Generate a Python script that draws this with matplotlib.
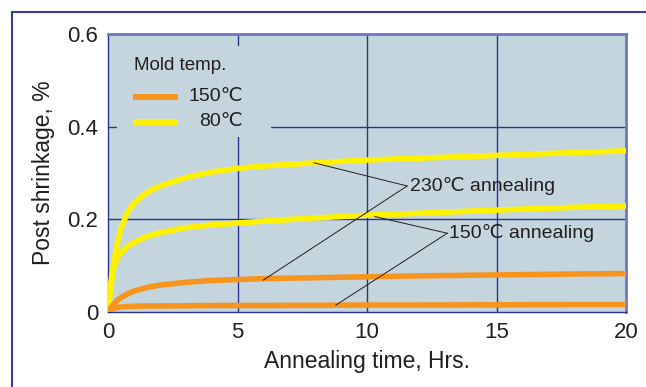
import numpy as np
import matplotlib
matplotlib.use("Agg")
import matplotlib.pyplot as plt
from matplotlib.patches import Rectangle

plt.rcParams["font.family"] = ["Liberation Sans", "DejaVu Sans"]

# annealing time, hrs
t = [0, 0.1, 0.2, 0.35, 0.5, 0.75, 1, 1.5, 2, 3, 4, 5, 6, 8, 10, 12, 15, 18, 20]
# mold temp 80C, 230C annealing
y80_230 = [0, 0.06, 0.10, 0.145, 0.18, 0.215, 0.235, 0.258, 0.272, 0.29, 0.302, 0.31,
           0.315, 0.322, 0.328, 0.332, 0.338, 0.344, 0.348]
# mold temp 80C, 150C annealing
y80_150 = [0, 0.05, 0.09, 0.115, 0.128, 0.142, 0.15, 0.163, 0.171, 0.182, 0.188, 0.192,
           0.196, 0.203, 0.209, 0.213, 0.220, 0.226, 0.229]
# mold temp 150C, 230C annealing
y150_230 = [0, 0.008, 0.016, 0.025, 0.031, 0.039, 0.045, 0.053, 0.058, 0.064, 0.068,
            0.070, 0.072, 0.074, 0.076, 0.078, 0.080, 0.082, 0.083]
# mold temp 150C, 150C annealing
y150_150 = [0, 0.004, 0.007, 0.010, 0.011, 0.012, 0.0125, 0.013, 0.013, 0.0135, 0.014,
            0.014, 0.014, 0.0145, 0.015, 0.015, 0.0155, 0.016, 0.016]

xticks = [0, 5, 10, 15, 20]
yticks = [0, 0.2, 0.4, 0.6]
ytick_labels = ["0", "0.2", "0.4", "0.6"]

orange = "#f7941d"
yellow = "#fff200"
grid_c = "#2b3591"
bg = "#c4d5dd"
txt = "#231f20"

fig = plt.figure(figsize=(6.46, 3.87), dpi=100)
fig.patches.append(Rectangle((12 / 646, -0.1), 1.2, 1 - 12 / 387 + 0.1,
                             transform=fig.transFigure, fill=False,
                             edgecolor="#3a3f9e", linewidth=1.5))
ax = fig.add_axes([108 / 646, 1 - 312 / 387, 518 / 646, 278 / 387])
ax.set_facecolor(bg)

for xv in xticks[1:-1]:
    ax.axvline(xv, color=grid_c, lw=1.0, zorder=1)
for yv in yticks[1:-1]:
    ax.axhline(yv, color=grid_c, lw=1.0, zorder=1)

# legend box hides the grid behind it
ax.add_patch(Rectangle((0.35, 0.378), 5.95, 0.196, facecolor=bg, edgecolor="none", zorder=2))
ax.text(1.0, 0.531, "Mold temp.", fontsize=13.5, color=txt, va="center", zorder=3)
ax.plot([0.96, 2.7], [0.465, 0.465], color=orange, lw=4.3, solid_capstyle="butt", zorder=3)
ax.plot([0.96, 2.7], [0.411, 0.411], color=yellow, lw=4.3, solid_capstyle="butt", zorder=3)
ax.text(5.2, 0.465, "150℃", fontsize=14, color=txt, va="center", ha="right", zorder=3)
ax.text(5.2, 0.411, "80℃", fontsize=14, color=txt, va="center", ha="right", zorder=3)

ax.plot(t, y80_230, color=yellow, lw=4, zorder=4)
ax.plot(t, y80_150, color=yellow, lw=4, zorder=4)
ax.plot(t, y150_230, color=orange, lw=4, zorder=4)
ax.plot(t, y150_150, color=orange, lw=4, zorder=4)

# leader lines
ax.plot([7.95, 11.55], [0.322, 0.272], color=txt, lw=0.7, zorder=5)
ax.plot([6.0, 11.55], [0.069, 0.272], color=txt, lw=0.7, zorder=5)
ax.text(11.65, 0.272, "230℃ annealing", fontsize=14, color=txt, va="center", zorder=5)
ax.plot([10.3, 13.1], [0.206, 0.17], color=txt, lw=0.7, zorder=5)
ax.plot([8.8, 13.1], [0.015, 0.17], color=txt, lw=0.7, zorder=5)
ax.text(13.15, 0.17, "150℃ annealing", fontsize=14, color=txt, va="center", zorder=5)

ax.set_xlim(0, 20)
ax.set_ylim(0, 0.6)
ax.set_xticks(xticks)
ax.set_yticks(yticks)
ax.set_yticklabels(ytick_labels)
ax.tick_params(length=0, labelsize=16, pad=7, labelcolor=txt)
for s in ["left", "bottom"]:
    ax.spines[s].set_color(grid_c)
    ax.spines[s].set_linewidth(1.0)
for s in ["top", "right"]:
    ax.spines[s].set_color("#7075c0")
    ax.spines[s].set_linewidth(2.0)
ax.set_xlabel("Annealing time, Hrs.", fontsize=16.5, color=txt, labelpad=5)
ax.set_ylabel("Post shrinkage, %", fontsize=16.5, color=txt, labelpad=9)

fig.savefig("out.png", dpi=100)
